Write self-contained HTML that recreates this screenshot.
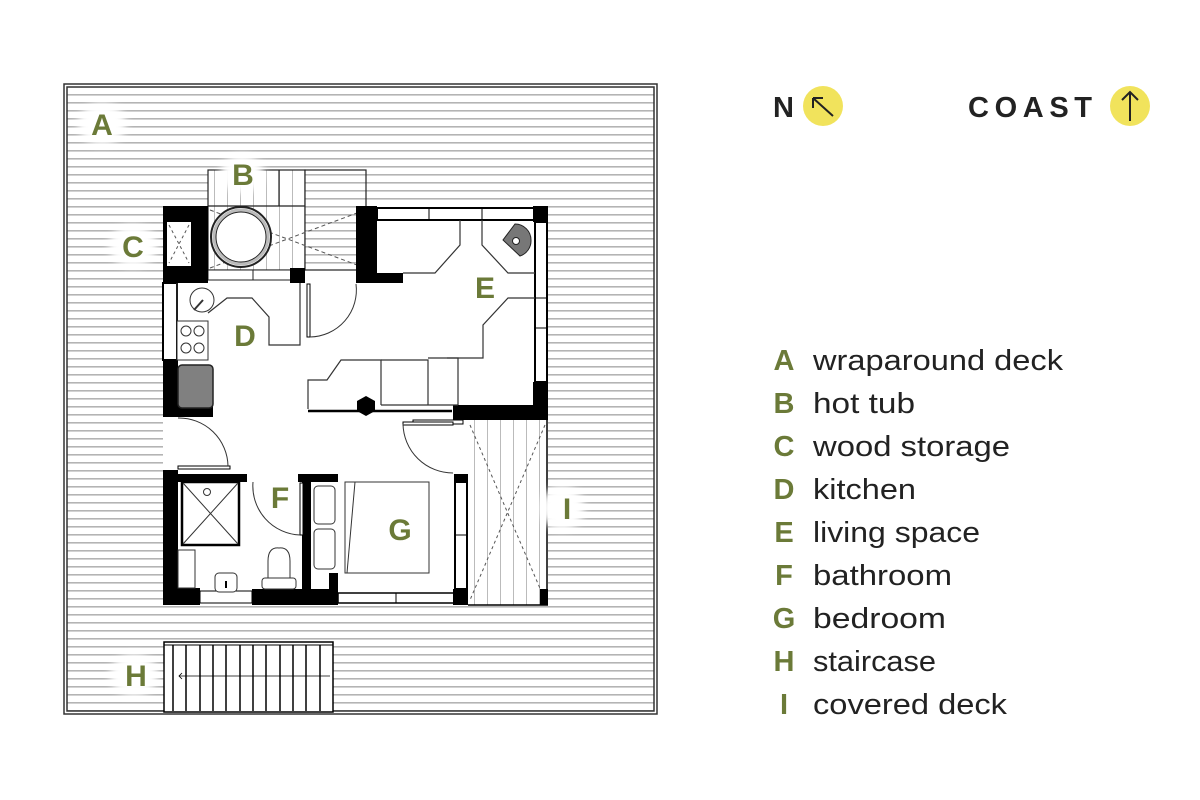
<!DOCTYPE html>
<html><head><meta charset="utf-8"><style>
html,body{margin:0;padding:0;background:#fff;}
svg{display:block;}
text{font-family:"Liberation Sans",sans-serif;}
</style></head><body>
<svg width="1200" height="800" viewBox="0 0 1200 800" xmlns="http://www.w3.org/2000/svg">
<defs>
<pattern id="deck" x="0" y="0" width="10" height="8" patternUnits="userSpaceOnUse">
<rect width="10" height="8" fill="#fff"/><rect y="6" width="10" height="1.6" fill="#b4b4b4"/>
</pattern>
<pattern id="vl" x="0" y="0" width="13" height="10" patternUnits="userSpaceOnUse">
<rect width="13" height="10" fill="#fff"/><rect x="6" width="1" height="10" fill="#bbb"/>
</pattern>
<filter id="bl" x="-50%" y="-50%" width="200%" height="200%"><feGaussianBlur stdDeviation="4"/></filter>
</defs>
<!-- outer deck -->
<rect x="67" y="87" width="587" height="624" fill="url(#deck)" stroke="#333" stroke-width="1.5"/>
<rect x="64" y="84" width="593" height="630" fill="none" stroke="#333" stroke-width="1.5"/>

<!-- building white interior -->
<rect x="163" y="206" width="385" height="399" fill="#fff"/>
<rect x="208" y="170" width="158" height="100" fill="#fff"/>
<!-- hot tub area -->
<rect x="208" y="170" width="97" height="100" fill="url(#vl)" stroke="#222" stroke-width="1.2"/>
<rect x="305" y="170" width="61" height="100" fill="url(#deck)" stroke="#222" stroke-width="1.2"/>
<line x1="208" y1="206" x2="305" y2="206" stroke="#222" stroke-width="1.2"/>
<line x1="279" y1="170" x2="279" y2="206" stroke="#222" stroke-width="1.2"/>
<path d="M210 210 L365 268 M210 268 L365 210" stroke="#555" stroke-dasharray="4 3" fill="none"/>
<circle cx="241" cy="237" r="30" fill="#fff" stroke="#222" stroke-width="2"/>
<circle cx="241" cy="237" r="27" fill="none" stroke="#bbb" stroke-width="3"/>
<circle cx="241" cy="237" r="25" fill="#fff" stroke="#222" stroke-width="1"/>
<rect x="208" y="270" width="92" height="10" fill="#fff" stroke="#222"/>
<line x1="253" y1="270" x2="253" y2="280" stroke="#222"/>
<!-- C block -->
<rect x="163" y="206" width="45" height="77" fill="#000"/>
<rect x="167" y="222" width="24" height="44" fill="#fff"/>
<path d="M169 225 L189 263 M189 225 L169 263" stroke="#555" stroke-dasharray="3 3"/>
<rect x="290" y="268" width="15" height="15" fill="#000"/>
<!-- E walls -->
<rect x="356" y="206" width="21" height="77" fill="#000"/>
<rect x="356" y="273" width="47" height="10" fill="#000"/>
<rect x="377" y="208" width="158" height="12" fill="#fff" stroke="#000" stroke-width="2"/>
<line x1="429" y1="208" x2="429" y2="220" stroke="#000"/><line x1="482" y1="208" x2="482" y2="220" stroke="#000"/>
<rect x="533" y="206" width="15" height="16" fill="#000"/>
<rect x="535" y="222" width="12" height="160" fill="#fff" stroke="#000" stroke-width="2"/>
<line x1="535" y1="298" x2="547" y2="298" stroke="#000"/><line x1="535" y1="328" x2="547" y2="328" stroke="#000"/>
<rect x="533" y="382" width="15" height="38" fill="#000"/>
<rect x="453" y="405" width="95" height="15" fill="#000"/>
<!-- E counters -->
<path d="M460 220 L460 245 L435 273 L403 273" fill="none" stroke="#333" stroke-width="1.2"/>
<path d="M482 220 L482 245 L508 273 L535 273" fill="none" stroke="#333" stroke-width="1.2"/>
<path d="M535 298 L508 298 L483 325 L483 358 L447 358" fill="none" stroke="#333" stroke-width="1.2"/>
<path d="M515 224 A16 16 0 0 1 531 240 A16 16 0 0 1 520 256 L503 240 Z" fill="#777" stroke="#222"/>
<circle cx="516" cy="241" r="3.5" fill="#fff" stroke="#222"/>
<!-- sofa -->
<path d="M308 409 L308 380 L327 380 L341 360 L381 360 L381 405" fill="#fff" stroke="#333" stroke-width="1.2"/>
<path d="M381 360 L428 360 L428 405 M428 358 L458 358 L458 405 M381 405 L458 405" fill="none" stroke="#333" stroke-width="1.2"/>
<line x1="308" y1="411" x2="452" y2="411" stroke="#000" stroke-width="2.5"/>
<polygon points="366,396 375,401 375,411 366,416 357,411 357,401" fill="#000"/>
<rect x="413" y="420" width="50" height="4" fill="#fff" stroke="#000"/>
<!-- D -->
<rect x="163" y="283" width="14" height="77" fill="#fff" stroke="#000" stroke-width="2"/>
<rect x="163" y="360" width="15" height="57" fill="#000"/>
<rect x="163" y="405" width="50" height="12" fill="#000"/>
<rect x="178" y="365" width="35" height="43" rx="4" fill="#808080" stroke="#222" stroke-width="1.5"/>
<rect x="177" y="321" width="31" height="39" fill="#fff" stroke="#333"/>
<circle cx="186" cy="331" r="5" fill="none" stroke="#333"/><circle cx="199" cy="331" r="5" fill="none" stroke="#333"/>
<circle cx="186" cy="348" r="5" fill="none" stroke="#333"/><circle cx="199" cy="348" r="5" fill="none" stroke="#333"/>
<circle cx="202" cy="300" r="12" fill="#fff" stroke="#333"/>
<line x1="194" y1="310" x2="203" y2="300" stroke="#333" stroke-width="2"/>
<path d="M177 283 L177 321 M208 313 L227 298 L252 298 L269 317 L269 345 L300 345 L300 283" fill="none" stroke="#333" stroke-width="1.2"/>
<rect x="307" y="284" width="3" height="53" fill="#fff" stroke="#000"/>
<path d="M310 337 A47 47 0 0 0 356 284" fill="none" stroke="#333"/>
<!-- bathroom door -->
<rect x="178" y="466" width="52" height="3" fill="#fff" stroke="#000"/>
<path d="M178 418 A49 49 0 0 1 228 466" fill="none" stroke="#333"/>
<!-- bathroom walls -->
<rect x="163" y="470" width="15" height="135" fill="#000"/>
<rect x="163" y="474" width="84" height="8" fill="#000"/>
<rect x="298" y="474" width="40" height="8" fill="#000"/>
<rect x="302" y="474" width="9" height="125" fill="#000"/>
<rect x="163" y="588" width="37" height="17" fill="#000"/>
<rect x="200" y="591" width="52" height="12" fill="#fff" stroke="#000"/>
<rect x="252" y="589" width="86" height="16" fill="#000"/>
<rect x="329" y="573" width="9" height="20" fill="#000"/>
<rect x="338" y="593" width="116" height="10" fill="#fff" stroke="#000" stroke-width="1.5"/>
<line x1="396" y1="593" x2="396" y2="603" stroke="#000"/>
<rect x="453" y="589" width="15" height="16" fill="#000"/>
<rect x="182" y="482" width="57" height="63" fill="#fff" stroke="#000" stroke-width="2.5"/>
<path d="M183 483 L238 544 M238 483 L183 544" stroke="#333"/>
<circle cx="207" cy="492" r="3.5" fill="#fff" stroke="#333"/>
<rect x="178" y="550" width="17" height="38" fill="#fff" stroke="#333"/>
<rect x="215" y="573" width="22" height="19" rx="4" fill="#fff" stroke="#333"/>
<rect x="225" y="581" width="2" height="7" fill="#000"/>
<path d="M268 561 L268 578 L290 578 L290 561 Q290 547 279 548 Q268 547 268 561 Z" fill="#fff" stroke="#333"/>
<rect x="262" y="578" width="34" height="11" rx="3" fill="#fff" stroke="#333"/>
<rect x="300" y="483" width="3" height="52" fill="#fff" stroke="#000"/>
<path d="M253 482 A49 49 0 0 0 300 535" fill="none" stroke="#333"/>
<!-- bedroom -->
<rect x="345" y="482" width="84" height="91" fill="#fff" stroke="#333"/>
<line x1="355" y1="482" x2="347" y2="573" stroke="#333"/>
<rect x="314" y="486" width="21" height="38" rx="4" fill="#fff" stroke="#333"/>
<rect x="314" y="529" width="21" height="40" rx="4" fill="#fff" stroke="#333"/>
<rect x="454" y="474" width="14" height="8" fill="#000"/>
<rect x="455" y="482" width="12" height="107" fill="#fff" stroke="#000" stroke-width="2"/>
<line x1="455" y1="535" x2="467" y2="535" stroke="#000"/>
<rect x="403" y="422" width="50" height="3" fill="#fff" stroke="#000"/>
<path d="M403 424 A50 50 0 0 0 453 473" fill="none" stroke="#333"/>
<!-- covered deck -->
<rect x="468" y="420" width="79" height="185" fill="url(#vl)"/>
<line x1="547" y1="420" x2="547" y2="605" stroke="#000" stroke-width="1.5"/>
<line x1="468" y1="605" x2="548" y2="605" stroke="#000" stroke-width="1.5"/>
<path d="M470 425 L545 600 M545 425 L470 600" stroke="#555" stroke-dasharray="3 3"/>
<rect x="540" y="589" width="8" height="16" fill="#000"/>
<!-- staircase -->
<rect x="164" y="642" width="169" height="70" fill="#fff" stroke="#000" stroke-width="1.5"/>
<line x1="164" y1="645" x2="333" y2="645" stroke="#000"/>
<g stroke="#000" stroke-width="1.5">
<line x1="173" y1="645" x2="173" y2="711"/><line x1="186" y1="645" x2="186" y2="711"/><line x1="200" y1="645" x2="200" y2="711"/><line x1="213" y1="645" x2="213" y2="711"/><line x1="226" y1="645" x2="226" y2="711"/><line x1="240" y1="645" x2="240" y2="711"/><line x1="253" y1="645" x2="253" y2="711"/><line x1="266" y1="645" x2="266" y2="711"/><line x1="280" y1="645" x2="280" y2="711"/><line x1="293" y1="645" x2="293" y2="711"/><line x1="306" y1="645" x2="306" y2="711"/><line x1="320" y1="645" x2="320" y2="711"/>
</g>
<line x1="179" y1="676" x2="330" y2="676" stroke="#000" stroke-width="0.8"/>
<path d="M182 673 L179 676 L182 679" fill="none" stroke="#000" stroke-width="0.8"/>
<!-- label halos -->
<g fill="#fff" filter="url(#bl)">
<ellipse cx="102" cy="124" rx="24" ry="21"/><ellipse cx="242" cy="174" rx="22" ry="19"/>
<ellipse cx="133" cy="246" rx="24" ry="21"/><ellipse cx="562" cy="508" rx="22" ry="22"/>
<ellipse cx="134" cy="675" rx="24" ry="21"/>
</g>
<g fill="#6b7a38" font-weight="bold" font-size="30" text-anchor="middle">
<text x="102" y="135">A</text><text x="243" y="185">B</text><text x="133" y="257">C</text>
<text x="245" y="346">D</text><text x="485" y="298">E</text><text x="280" y="508">F</text>
<text x="400" y="540">G</text><text x="136" y="686">H</text><text x="567" y="519">I</text>
</g>
<!-- header -->
<text x="773" y="117" font-size="29" font-weight="bold" fill="#222">N</text>
<circle cx="823" cy="106" r="20" fill="#f1e35c"/>
<path d="M833 116 L813 98 M813 98 L813 108 M813 98 L823 98" stroke="#222" stroke-width="2" fill="none"/>
<text x="968" y="117" font-size="29" font-weight="bold" fill="#222" textLength="124" lengthAdjust="spacing">COAST</text>
<circle cx="1130" cy="106" r="20" fill="#f1e35c"/>
<path d="M1130 121 L1130 92 M1122 100 L1130 92 L1138 100" stroke="#222" stroke-width="2" fill="none"/>
<!-- legend -->
<g font-size="29" font-weight="bold" fill="#6b7a38" text-anchor="middle">
<text x="784" y="370">A</text><text x="784" y="413">B</text><text x="784" y="456">C</text>
<text x="784" y="499">D</text><text x="784" y="542">E</text><text x="784" y="585">F</text>
<text x="784" y="628">G</text><text x="784" y="671">H</text><text x="784" y="714">I</text>
</g>
<g font-size="29" fill="#222">
<text x="813" y="370" textLength="250" lengthAdjust="spacingAndGlyphs">wraparound deck</text>
<text x="813" y="413" textLength="102" lengthAdjust="spacingAndGlyphs">hot tub</text>
<text x="813" y="456" textLength="197" lengthAdjust="spacingAndGlyphs">wood storage</text>
<text x="813" y="499" textLength="103" lengthAdjust="spacingAndGlyphs">kitchen</text>
<text x="813" y="542" textLength="167" lengthAdjust="spacingAndGlyphs">living space</text>
<text x="813" y="585" textLength="139" lengthAdjust="spacingAndGlyphs">bathroom</text>
<text x="813" y="628" textLength="133" lengthAdjust="spacingAndGlyphs">bedroom</text>
<text x="813" y="671" textLength="123" lengthAdjust="spacingAndGlyphs">staircase</text>
<text x="813" y="714" textLength="194" lengthAdjust="spacingAndGlyphs">covered deck</text>
</g>
</svg>
</body></html>
